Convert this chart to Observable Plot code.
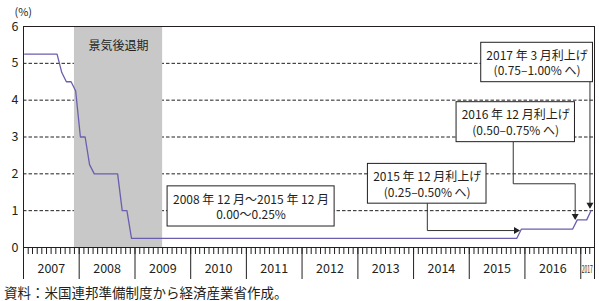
<!DOCTYPE html>
<html><head><meta charset="utf-8">
<script src="https://cdn.jsdelivr.net/npm/d3@7"></script>
<script src="https://cdn.jsdelivr.net/npm/@observablehq/plot@0.6"></script>
<style>
body{margin:0;background:#fff;}
#chart svg{display:block;}
.caption{font-family:"Noto Sans CJK JP",sans-serif;font-size:13.5px;line-height:17px;height:17px;margin-left:4px;color:#231f20;white-space:nowrap;}
</style></head><body>
<div id="chart"></div>
<div class="caption">資料：米国連邦準備制度から経済産業省作成。</div>
<script>
// ---- data ----
const startYear = 2007;
// FF rate target (upper bound, end of month, %), Jan 2007 - Mar 2017
const rates = [
  5.25,5.25,5.25,5.25,5.25,5.25,5.25,5.25,4.75,4.50,4.50,4.25, // 2007
  3.00,3.00,2.25,2.00,2.00,2.00,2.00,2.00,2.00,1.00,1.00,0.25, // 2008
  0.25,0.25,0.25,0.25,0.25,0.25,0.25,0.25,0.25,0.25,0.25,0.25, // 2009
  0.25,0.25,0.25,0.25,0.25,0.25,0.25,0.25,0.25,0.25,0.25,0.25, // 2010
  0.25,0.25,0.25,0.25,0.25,0.25,0.25,0.25,0.25,0.25,0.25,0.25, // 2011
  0.25,0.25,0.25,0.25,0.25,0.25,0.25,0.25,0.25,0.25,0.25,0.25, // 2012
  0.25,0.25,0.25,0.25,0.25,0.25,0.25,0.25,0.25,0.25,0.25,0.25, // 2013
  0.25,0.25,0.25,0.25,0.25,0.25,0.25,0.25,0.25,0.25,0.25,0.25, // 2014
  0.25,0.25,0.25,0.25,0.25,0.25,0.25,0.25,0.25,0.25,0.25,0.50, // 2015
  0.50,0.50,0.50,0.50,0.50,0.50,0.50,0.50,0.50,0.50,0.50,0.75, // 2016
  0.75,0.75,1.00                                               // 2017
];
const yearLabels = ["2007","2008","2009","2010","2011","2012","2013","2014","2015","2016","2017"];
const yTicks = [0,1,2,3,4,5,6];
const gridValues = [1,2,3,4,5];
const recession = {from: "2007-12-01", to: "2009-07-01", label: "景気後退期"};
const notes = [
  "2008 年 12 月～2015 年 12 月\n0.00～0.25%",
  "2015 年 12 月利上げ\n(0.25–0.50% へ)",
  "2016 年 12 月利上げ\n(0.50–0.75% へ)",
  "2017 年 3 月利上げ\n(0.75–1.00% へ)"
];
// annotation layout (decimal years / % values)
const noteLayout = [
  {x1:2009.585,x2:2012.583,y1:0.57,y2:1.66,path:null},
  {x1:2013.18,x2:2015.31,y1:1.19,y2:2.27,
   path:[[2014.247,1.19],[2014.247,0.46],[2015.885,0.46]],dir:"right"},
  {x1:2014.772,x2:2016.896,y1:2.86,y2:3.945,
   path:[[2015.79,2.86],[2015.79,1.73],[2016.90,1.73],[2016.90,0.79]],dir:"down"},
  {x1:2015.215,x2:2017.219,y1:4.488,y2:5.558,
   path:[[2017.165,4.488],[2017.165,1.094]],dir:"down"}
];

// ---- helpers ----
function yr(d){const y=Math.floor(d);const a=Date.UTC(y,0,1),b=Date.UTC(y+1,0,1);return new Date(a+(d-y)*(b-a));}
const months = rates.map((_, i) => new Date(Date.UTC(startYear, i, 1)));
const series = rates.map((v, i) => ({date: d3.utcDay.offset(months[i], 8), value: v}));
const xStart = months[0];
const xEnd = d3.utcMonth.offset(months[months.length - 1], 1);
const monthTicks = d3.utcMonths(xStart, d3.utcDay.offset(xEnd, 1));
const yearTicks = d3.utcYears(xStart, xEnd).concat([xEnd]);
const yearPos = yearLabels.map((l, i) => {
  const a = new Date(Date.UTC(startYear + i, 0, 1));
  const b = d3.min([new Date(Date.UTC(startYear + i + 1, 0, 1)), xEnd]);
  return {label: l, date: new Date((+a + +b) / 2)};
});
const yearMain = yearPos.filter(d => d.label !== "2017");
const yearLast = yearPos.filter(d => d.label === "2017");
const boxes = noteLayout.map(n => ({x1: yr(n.x1), x2: yr(n.x2), y1: n.y1, y2: n.y2}));
const boxTexts = notes.map((t, i) => {
  const n = noteLayout[i];
  return {text: t, x: yr((n.x1 + n.x2) / 2), y: (n.y1 + n.y2) / 2};
});
const connectors = noteLayout.flatMap((n, i) => n.path ? n.path.map(p => ({id: i, x: yr(p[0]), y: p[1]})) : []);
const heads = noteLayout.filter(n => n.path).map(n => {
  const p = n.path[n.path.length - 1];
  return {x: yr(p[0]), y: p[1], dir: n.dir};
});
const ink = "#231f20";
const font = '"Noto Sans CJK JP", sans-serif';

const chart = Plot.plot({
  width: 599, height: 284,
  marginLeft: 23, marginRight: 5, marginTop: 26, marginBottom: 37,
  x: {type: "utc", domain: [xStart, xEnd]},
  y: {domain: [0, 6]},
  style: {fontFamily: font, fontSize: "12px", color: ink, background: "white"},
  marks: [
    Plot.ruleY(gridValues, {stroke: ink, strokeDasharray: "3.5,2", strokeWidth: 1}),
    Plot.rect([recession], {x1: d => new Date(d.from), x2: d => new Date(d.to), y1: 0, y2: 6, fill: "#c8c8c8"}),
    Plot.text([recession], {x: d => new Date((+new Date(d.from) + +new Date(d.to)) / 2), text: "label", frameAnchor: "top", dy: 15, fontSize: 12, fill: ink}),
    Plot.line(series, {x: "date", y: "value", stroke: "#6b5eae", strokeWidth: 1.3}),
    Plot.line(connectors, {x: "x", y: "y", z: "id", stroke: "#333", strokeWidth: 1}),
    Plot.dot(heads.filter(h => h.dir === "right"), {x: "x", y: "y", symbol: "triangle", r: 2.6, fill: "#222", stroke: null, rotate: 90, dx: -2.5}),
    Plot.dot(heads.filter(h => h.dir === "down"), {x: "x", y: "y", symbol: "triangle", r: 2.6, fill: "#222", stroke: null, rotate: 180, dy: -2.5}),
    Plot.rect(boxes, {x1: "x1", x2: "x2", y1: "y1", y2: "y2", fill: "white", stroke: ink, strokeWidth: 1}),
    Plot.text(boxTexts, {x: "x", y: "y", text: "text", fontSize: 12, lineHeight: 1.3, fill: ink}),
    Plot.axisY({ticks: yTicks, tickSize: 0, tickPadding: 5, fontSize: 12.5, label: null, tickFormat: d => String(d)}),
    Plot.axisX({ticks: monthTicks, tickSize: 7, tickFormat: () => "", label: null, stroke: ink}),
    Plot.axisX({ticks: yearTicks, tickSize: 32, tickFormat: () => "", label: null, stroke: ink}),
    Plot.text(yearMain, {x: "date", text: "label", frameAnchor: "bottom", dy: 25, fontSize: 12.5, fill: ink}),
    Plot.text(yearLast, {x: "date", text: "label", frameAnchor: "bottom", dy: 25, dx: -0.5, fontSize: 8, fill: ink}),
    Plot.text(["(%)"], {frameAnchor: "top-left", dx: -9, dy: -18, fontSize: 11, fill: ink, text: d => d}),
    Plot.frame({stroke: ink})
  ]
});
document.getElementById("chart").appendChild(chart);
chart.querySelectorAll("text").forEach(t => {
  if (t.textContent === "2017") {
    t.setAttribute("textLength", "11");
    t.setAttribute("lengthAdjust", "spacingAndGlyphs");
    const tr = t.getAttribute("transform");
    if (tr) t.setAttribute("transform", tr + " scale(1,1.3)");
  }
});
</script>
</body></html>
